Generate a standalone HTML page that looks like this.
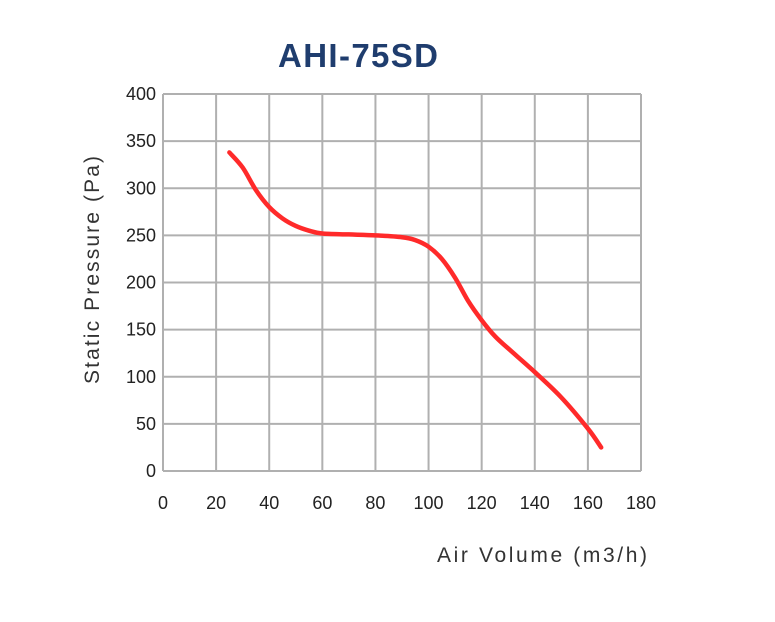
<!DOCTYPE html>
<html><head><meta charset="utf-8"><style>
body{margin:0;background:#fff;}
svg{display:block;font-family:"Liberation Sans",sans-serif;}
</style></head><body>
<svg id="chart" width="775" height="622">
<text x="358" y="67" text-anchor="middle" font-size="33" font-weight="bold" fill="#1f3d6e" textLength="160">AHI-75SD</text>
<g id="grid"></g>
<g id="yt"></g>
<g id="xt"></g>
<path id="curve" fill="none" stroke="#ff2a2a" stroke-width="4.5" stroke-linecap="round"/>
<text transform="translate(99,270) rotate(-90)" text-anchor="middle" font-size="21" fill="#333" textLength="228">Static Pressure (Pa)</text>
<text x="542" y="562" text-anchor="middle" font-size="21" fill="#333" textLength="210">Air Volume (m3/h)</text>
</svg>
<script>
const xTicks=[0,20,40,60,80,100,120,140,160,180];
const yTicks=[0,50,100,150,200,250,300,350,400];
const airVolume=[25,30,35,40,45,50,55,60,70,80,90,95,100,105,110,115,120,125,130,140,150,160,165];
const pressure=[338,322,298,280,268,260,255,252,251,250,248,245,238,225,205,180,160,143,130,105,78,45,25];
const L=163,R=641,T=94,B=471;
const sx=v=>L+(v-0)/(180-0)*(R-L);
const sy=v=>B-(v-0)/(400-0)*(B-T);
const NS="http://www.w3.org/2000/svg";
const grid=document.getElementById('grid'),yt=document.getElementById('yt'),xt=document.getElementById('xt');
function mk(tag,attrs,parent){const e=document.createElementNS(NS,tag);for(const k in attrs)e.setAttribute(k,attrs[k]);parent.appendChild(e);return e;}
xTicks.forEach(v=>{
  const l=mk('line',{x1:sx(v),x2:sx(v),y1:T,y2:B,stroke:'#b0b0b0','stroke-width':2},grid);
  
  
  const t=mk('text',{x:sx(v),y:509,'text-anchor':'middle','font-size':18,fill:'#222'},xt);
  t.textContent=v;
  
  
});
yTicks.forEach(v=>{
  const l=mk('line',{x1:L,x2:R,y1:sy(v),y2:sy(v),stroke:'#b0b0b0','stroke-width':2},grid);
  
  
  const t=mk('text',{x:156,y:sy(v)+6,'text-anchor':'end','font-size':18,fill:'#222'},yt);
  t.textContent=v;
  
  
});
const pts=airVolume.map((x,i)=>[sx(x),sy(pressure[i])]);
let d='M'+pts[0][0]+','+pts[0][1];
for(let i=0;i<pts.length-1;i++){
  const p0=pts[i-1]||pts[i],p1=pts[i],p2=pts[i+1],p3=pts[i+2]||p2;
  const c1=[p1[0]+(p2[0]-p0[0])/6,p1[1]+(p2[1]-p0[1])/6];
  const c2=[p2[0]-(p3[0]-p1[0])/6,p2[1]-(p3[1]-p1[1])/6];
  d+=' C'+c1+' '+c2+' '+p2;
}
document.getElementById('curve').setAttribute('d',d);
</script>
</body></html>
